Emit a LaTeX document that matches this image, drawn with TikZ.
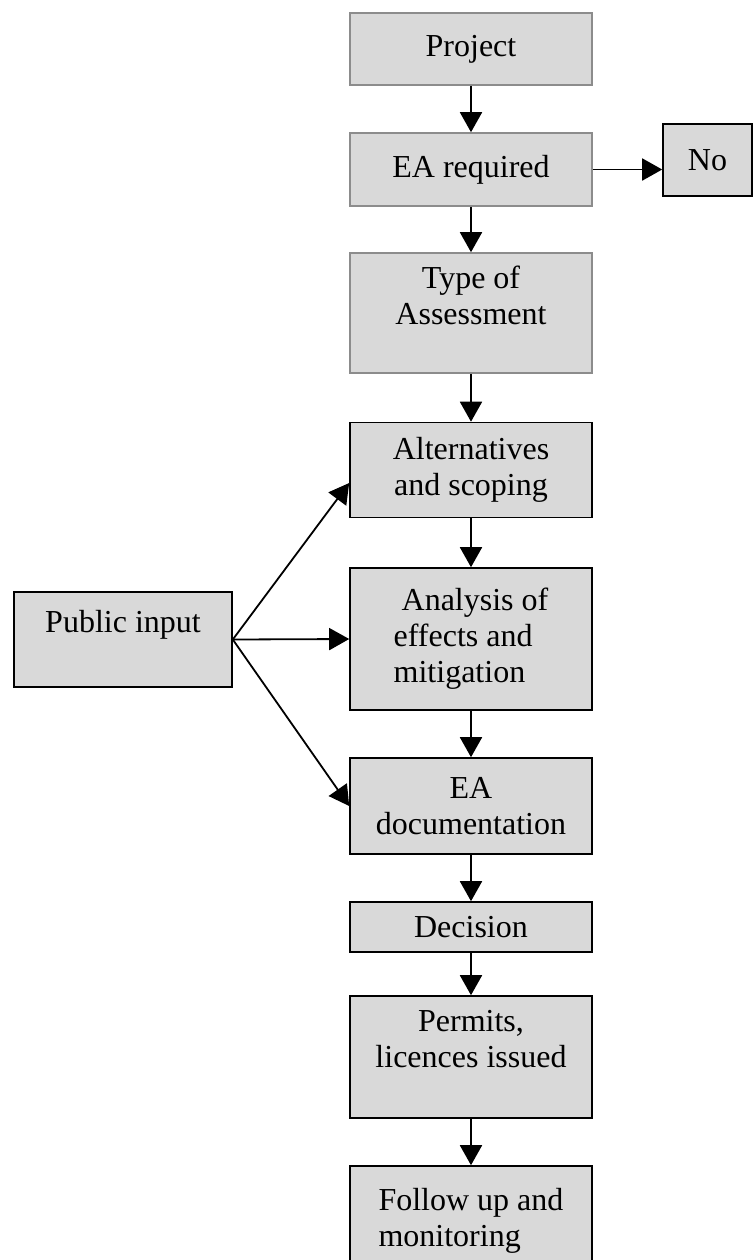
\documentclass[tikz,border=0pt]{standalone}
\usepackage{fontspec}
\setmainfont{Liberation Serif}
\usetikzlibrary{arrows.meta}
\definecolor{boxgrey}{gray}{0.85}

\begin{document}
\begin{tikzpicture}[x=0.5pt,y=-0.5pt,
  box style/.style={draw=black,line width=0.8pt,fill=boxgrey,minimum width=121pt,align=center,inner sep=2pt,font=\fontsize{16}{18}\selectfont},
  pale style/.style={box style,draw=black!45},
  link style/.style={line width=0.9pt,-{Triangle[length=10pt,width=11pt]}}]
  \clip (0,0) rectangle (753,1260);
  % main column
  \node[pale style,minimum height=36pt] (project) at (471,49) {Project};
  \node[pale style,minimum height=36.5pt] (required) at (471,169.5) {EA required};
  \node[box style,minimum width=44.5pt,minimum height=36pt] (no) at (707.5,160) {No};
  \node[pale style,minimum height=60pt] (type) at (471,313) {Type of\\Assessment\\ ~};
  \node[box style,minimum height=47.5pt] (alt) at (471,470) {Alternatives\\and scoping};
  \node[box style,minimum height=71pt,align=left] (analysis) at (471,639) {\ Analysis of\\effects and\\mitigation};
  \node[box style,minimum height=48pt] (doc) at (471,806) {EA\\documentation};
  \node[box style,minimum height=25pt] (decision) at (471,927) {Decision};
  \node[box style,minimum height=61pt] (permits) at (471,1057) {Permits,\\licences issued\\ ~};
  \node[box style,minimum height=55pt,align=left] (follow) at (471,1221) {Follow up and\\monitoring};
  % side input
  \node[box style,minimum width=109pt,minimum height=47.5pt] (public) at (123,639.5) {Public input\\ ~};

  \draw[link style] (project) -- (required);
  \draw[link style] (required.east) -- (required.east -| no.west);
  \draw[link style] (required) -- (type);
  \draw[link style] (type) -- (alt);
  \draw[link style] (alt) -- (analysis);
  \draw[link style] (analysis) -- (doc);
  \draw[link style] (doc) -- (decision);
  \draw[link style] (decision) -- (permits);
  \draw[link style] (permits) -- (follow);
  \draw[link style] (public.east) -- ([yshift=-6.5pt]alt.west);
  \draw[link style] (public.east) -- (analysis.west);
  \draw[link style] (public.east) -- (doc.west);
\end{tikzpicture}
\end{document}
